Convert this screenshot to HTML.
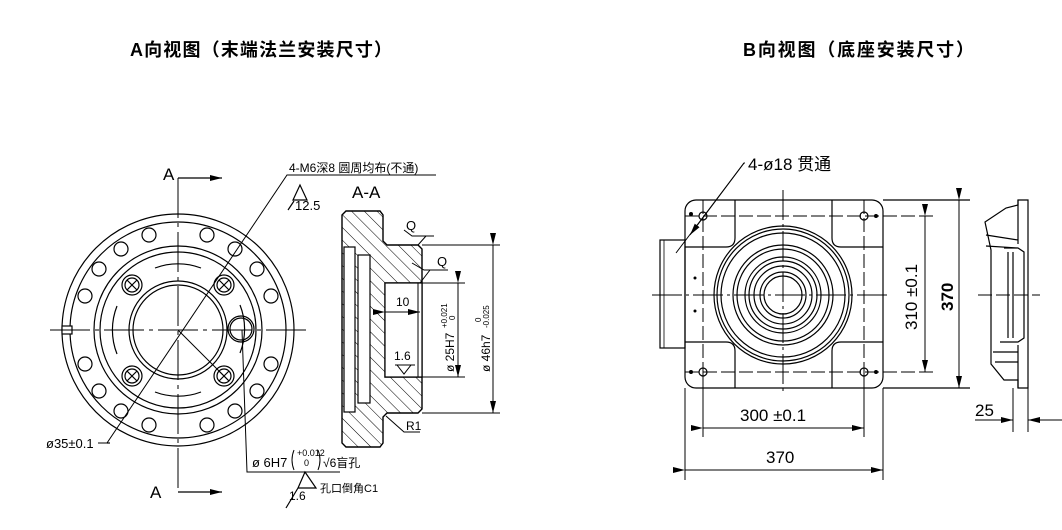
<!DOCTYPE html>
<html><head><meta charset="utf-8"><style>
html,body{margin:0;padding:0;background:#fff;}
svg{display:block;}
text{font-family:"Liberation Sans","Noto Sans CJK SC",sans-serif;fill:#000;}
.t{font-family:"Liberation Sans Narrow","Liberation Sans","Noto Sans CJK SC",sans-serif;}
</style></head><body>
<svg width="1062" height="530" viewBox="0 0 1062 530" xmlns="http://www.w3.org/2000/svg">
<defs>
<pattern id="h" width="9" height="9" patternUnits="userSpaceOnUse" patternTransform="rotate(-45)">
<line x1="0" y1="0" x2="0" y2="9" stroke="#000" stroke-width="1"/>
</pattern>
<marker id="ar" markerWidth="12" markerHeight="6" refX="12" refY="3" orient="auto" markerUnits="userSpaceOnUse"><path d="M0,0 L12,3 L0,6 z" fill="#000"/></marker>
</defs>

<text x="130" y="56" font-size="18" font-weight="bold" textLength="262">A向视图（末端法兰安装尺寸）</text>
<text x="743" y="56" font-size="18" font-weight="bold" textLength="231">B向视图（底座安装尺寸）</text>

<g stroke="#000" fill="none" stroke-width="1.2">
<!-- Left flange view center (178,330) -->
<circle cx="178" cy="330" r="116"/>
<circle cx="178" cy="330" r="108"/>
<circle cx="178" cy="330" r="84"/>
<circle cx="178" cy="330" r="78"/>
<circle cx="178" cy="330" r="49"/>
<circle cx="178" cy="330" r="45"/>
<rect x="62" y="326" width="10" height="8" fill="#fff"/>
<!-- small holes -->
<g id="sh">
<circle cx="207" cy="235" r="7"/><circle cx="235" cy="249" r="7"/><circle cx="257" cy="269" r="7"/><circle cx="271" cy="296" r="7"/>
<circle cx="271" cy="364" r="7"/><circle cx="257" cy="391" r="7"/><circle cx="235" cy="411" r="7"/><circle cx="207" cy="425" r="7"/>
<circle cx="149" cy="235" r="7"/><circle cx="121" cy="249" r="7"/><circle cx="99" cy="269" r="7"/><circle cx="85" cy="296" r="7"/>
<circle cx="85" cy="364" r="7"/><circle cx="99" cy="391" r="7"/><circle cx="121" cy="411" r="7"/><circle cx="149" cy="425" r="7"/>
</g>
<!-- M6 holes -->
<circle cx="132" cy="285" r="10"/><circle cx="132" cy="285" r="7"/><path d="M127,280 L137,290 M137,280 L127,290"/>
<circle cx="224" cy="285" r="10"/><circle cx="224" cy="285" r="7"/><path d="M219,280 L229,290 M229,280 L219,290"/>
<circle cx="132" cy="376" r="10"/><circle cx="132" cy="376" r="7"/><path d="M127,371 L137,381 M137,371 L127,381"/>
<circle cx="224" cy="376" r="10"/><circle cx="224" cy="376" r="7"/><path d="M219,371 L229,381 M229,371 L219,381"/>
<circle cx="241" cy="329" r="13"/><circle cx="241" cy="329" r="11"/>
<!-- arcs -->
<path d="M155,268 A65,65 0 0 1 201,268"/><path d="M155,392 A65,65 0 0 0 201,392"/>
<path d="M117,306 A65,65 0 0 0 117,354"/><path d="M240,305 A65,65 0 0 1 240,353"/>
<!-- center lines -->
<path d="M50,330 L307,330" stroke-dasharray="40,5,4,5" stroke-width="1"/>
<path d="M178,178 L178,492" stroke-dasharray="40,5,4,5" stroke-width="1"/>
<path d="M178,178 L222,178" marker-end="url(#ar)"/>
<path d="M178,492 L222,492" marker-end="url(#ar)"/>
<!-- leaders -->
<path d="M436,175 L287,175 L107,443 L108,443 M107,443 L108,443" stroke-width="1"/>
<path d="M110,443 L107,443"/>
<path d="M178,330 L228,380" stroke-width="1"/>
<path d="M242,330 L247,472 L340,472" stroke-width="1"/>
<path d="M300,185 L293,200 L307,200 Z M294,201 L288,210"/>
<path d="M305,472 L298,488 L316,488 Z M298,488 L286,508"/>
</g>
<text x="163" y="180" font-size="17" class="t">A</text>
<text x="150" y="498" font-size="17" class="t">A</text>
<text x="289" y="172" font-size="12" class="t">4-M6深8  圆周均布(不通)</text>
<text x="295" y="210" font-size="13" class="t">12.5</text>
<text x="46" y="448" font-size="13" class="t">ø35±0.1</text>
<line x1="98" y1="443" x2="108" y2="443" stroke="#000"/>
<text x="252" y="467" font-size="13" class="t">ø 6H7</text>
<text x="297" y="456" font-size="9" class="t">+0.012</text>
<text x="304" y="466" font-size="9" class="t">0</text>
<path d="M294,450 Q290,460 294,470 M318,450 Q322,460 318,470" stroke="#000" fill="none"/>
<text x="323" y="467" font-size="12" class="t">√6盲孔</text>
<text x="320" y="492" font-size="11" class="t">孔口倒角C1</text>
<text x="289" y="500" font-size="12" class="t">1.6</text>

<!-- Section A-A -->
<text x="352" y="198" font-size="17" class="t">A-A</text>
<path d="M342,215 L346,211 L380,211 L383,215 L383,241 L387,245 L418,245 L422,249 L422,409 L418,413 L387,413 L383,417 L383,443 L380,447 L346,447 L342,443 Z M385,283 L422,283 L422,377 L385,377 Z" fill="url(#h)" fill-rule="evenodd" stroke="#000" stroke-width="1.4"/>
<g stroke="#000" stroke-width="1.2" fill="#fff">
<rect x="344" y="247" width="11" height="165"/>
<rect x="358" y="255" width="12" height="148"/>
<rect x="385" y="283" width="37" height="94"/>
</g>
<g stroke="#000" fill="none" stroke-width="1">
<line x1="418" y1="283" x2="418" y2="377"/>
<line x1="422" y1="245" x2="500" y2="245"/><line x1="422" y1="413" x2="500" y2="413"/>
<line x1="493" y1="245" x2="493" y2="413" marker-start="url(#ar)" marker-end="url(#ar)"/>
<line x1="422" y1="283" x2="465" y2="283"/><line x1="422" y1="377" x2="465" y2="377"/>
<line x1="458" y1="283" x2="458" y2="377" marker-start="url(#ar)" marker-end="url(#ar)"/>
<line x1="385" y1="312" x2="420" y2="312" marker-start="url(#ar)" marker-end="url(#ar)"/>
<path d="M397,365 L404,374 L411,365 Z M395,365 L415,365"/>
<path d="M404,230 L412,236 L434,236 M418,245 L426,236"/>
<path d="M412,263 L424,270 L448,270 M420,283 L430,270"/>
<path d="M386,416 L404,432 L420,432"/>
</g>
<text x="406" y="230" font-size="13" class="t">Q</text>
<text x="437" y="266" font-size="13" class="t">Q</text>
<text x="396" y="306" font-size="12" class="t">10</text>
<text x="394" y="360" font-size="12" class="t">1.6</text>
<text x="406" y="430" font-size="12" class="t">R1</text>
<text transform="translate(454,372) rotate(-90)" font-size="12" class="t">ø 25H7</text>
<text transform="translate(447,328) rotate(-90)" font-size="8" class="t">+0.021</text>
<text transform="translate(455,320) rotate(-90)" font-size="8" class="t">0</text>
<text transform="translate(490,372) rotate(-90)" font-size="12" class="t">ø 46h7</text>
<text transform="translate(481,322) rotate(-90)" font-size="8" class="t">0</text>
<text transform="translate(489,328) rotate(-90)" font-size="8" class="t">-0.025</text>

<!-- B view -->
<g stroke="#000" fill="none" stroke-width="1.2">
<rect x="685" y="200" width="198" height="188" rx="11"/>
<rect x="660" y="240" width="25" height="108"/>
<line x1="664" y1="240" x2="664" y2="348" stroke-width="0.8"/>
<path d="M735,200 L735,238 Q735,247 726,247 L685,247 M832,200 L832,238 Q832,247 841,247 L883,247 M735,388 L735,351 Q735,342 726,342 L685,342 M832,388 L832,351 Q832,342 841,342 L883,342"/>
<circle cx="783" cy="295" r="69"/><circle cx="783" cy="295" r="66"/><circle cx="783" cy="295" r="62"/>
<circle cx="783" cy="295" r="50"/><circle cx="783" cy="295" r="46"/><circle cx="783" cy="295" r="38"/><circle cx="783" cy="295" r="34"/>
<circle cx="783" cy="295" r="29"/><circle cx="783" cy="295" r="23"/><circle cx="783" cy="295" r="19"/>
<circle cx="703" cy="216" r="4"/><circle cx="864" cy="216" r="4"/><circle cx="703" cy="372" r="4"/><circle cx="864" cy="372" r="4"/>
<path d="M685,216 L937,216 M685,372 L937,372 M703,200 L703,388 M864,200 L864,388" stroke-dasharray="14,4" stroke-width="1"/>
<path d="M652,295 L888,295 M783,190 L783,392" stroke-dasharray="30,4,3,4" stroke-width="1"/>
<path d="M883,200 L970,200 M883,388 L970,388"/>
<line x1="925" y1="216" x2="925" y2="372" marker-start="url(#ar)" marker-end="url(#ar)" stroke-width="1"/>
<line x1="959" y1="200" x2="959" y2="388" marker-start="url(#ar)" marker-end="url(#ar)" stroke-width="1"/>
<path d="M703,372 L703,437 M864,372 L864,437 M685,388 L685,480 M883,388 L883,480" stroke-width="1"/>
<line x1="703" y1="428" x2="864" y2="428" marker-start="url(#ar)" marker-end="url(#ar)" stroke-width="1"/>
<line x1="685" y1="470" x2="883" y2="470" marker-start="url(#ar)" marker-end="url(#ar)" stroke-width="1"/>
<path d="M745,163 L744,163 L676,253" stroke-width="1"/>
<line x1="744" y1="163" x2="690" y2="235" marker-end="url(#ar)" stroke-width="1"/>
<!-- side view -->
<path d="M1018,200 L1028,200 L1028,388 L1018,388 L1018,380 L1004,380 L991,364 L991,250 L985,222 L1006,208 L1018,205 Z"/>
<path d="M1018,200 L1018,244 M1018,345 L1018,388 M986,235 L1018,240 M986,246 L1018,248 M1004,248 L1018,248 L1024,252 L1024,338 L1018,342 L1000,342 M1008,252 L1008,338 M1013,252 L1013,338 M993,352 L1018,352 M995,362 L1018,362"/>
<path d="M978,295 L1040,295" stroke-dasharray="14,4" stroke-width="1"/>
<path d="M1013,388 L1013,432 M1028,388 L1028,432" stroke-width="1"/>
<line x1="975" y1="420" x2="1013" y2="420" marker-end="url(#ar)" stroke-width="1"/>
<line x1="1062" y1="420" x2="1028" y2="420" marker-end="url(#ar)" stroke-width="1"/>
</g>
<g fill="#000"><circle cx="691" cy="214" r="2"/><circle cx="876" cy="216" r="2"/><circle cx="691" cy="372" r="2"/><circle cx="876" cy="372" r="2"/><circle cx="695" cy="278" r="1.5"/><circle cx="695" cy="311" r="1.5"/></g>
<text x="748" y="170" font-size="17" class="t">4-ø18 贯通</text>
<text x="740" y="421" font-size="17" class="t">300 ±0.1</text>
<text x="766" y="463" font-size="17" class="t">370</text>
<text transform="translate(917,330) rotate(-90)" font-size="17" class="t">310 ±0.1</text>
<text transform="translate(953,311) rotate(-90)" font-size="17" class="t" font-weight="bold">370</text>
<text x="975" y="416" font-size="17" class="t">25</text>
</svg>
</body></html>
